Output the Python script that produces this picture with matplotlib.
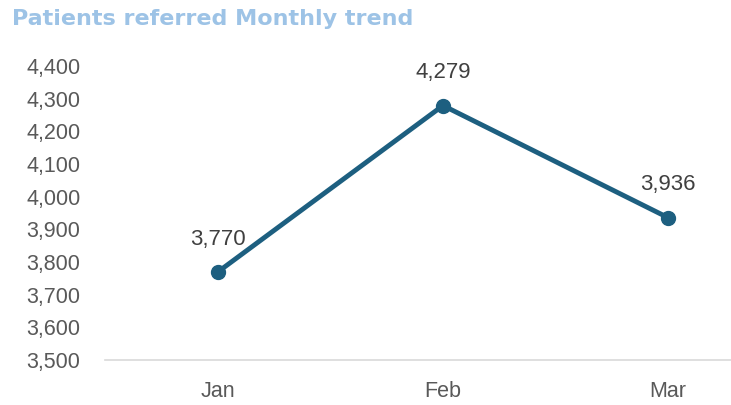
import matplotlib.pyplot as plt
from matplotlib.ticker import FuncFormatter

months = ["Jan", "Feb", "Mar"]
referred = [3770, 4279, 3936]
y_ticks = list(range(3500, 4401, 100))

plt.rcParams["font.family"] = ["Liberation Sans", "DejaVu Sans"]

fig = plt.figure(figsize=(7.31, 4.05), dpi=100)
ax = fig.add_axes([0.1443, 0.111, 0.9234, 0.726])

x = list(range(len(months)))
ax.plot(x, referred, color="#1D5F80", linewidth=3.5, marker="o", markersize=10,
        solid_capstyle="round", clip_on=False)
for xi, v in zip(x, referred):
    ax.annotate(f"{v:,}", (xi, v), xytext=(0, 16), textcoords="offset points",
                ha="center", va="bottom", fontsize=16, color="#404040")

ax.set_xlim(-0.5, 2.5)
ax.set_ylim(3500, 4400)
ax.set_yticks(y_ticks)
ax.yaxis.set_major_formatter(FuncFormatter(lambda v, p: f"{int(v):,}"))
ax.set_xticks(x)
ax.set_xticklabels(months)
ax.tick_params(axis="both", length=0, labelsize=15.5, colors="#595959")
ax.tick_params(axis="y", pad=18)
ax.tick_params(axis="x", pad=15)

for side in ["top", "right", "left"]:
    ax.spines[side].set_visible(False)
ax.spines["bottom"].set_color("#D9D9D9")
ax.spines["bottom"].set_linewidth(1.2)

fig.text(0.016, 0.953, "Patients referred Monthly trend", fontsize=16,
         fontweight="bold", color="#9DC3E6", ha="left", va="center",
         family="DejaVu Sans")

fig.savefig("out.png", dpi=100)
